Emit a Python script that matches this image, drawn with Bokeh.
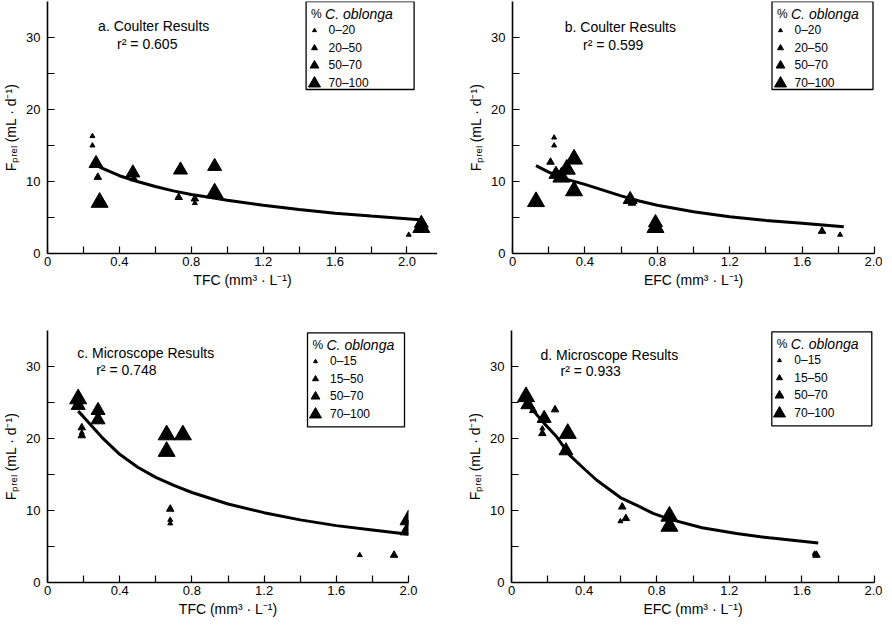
from bokeh.plotting import figure
from bokeh.layouts import column, row
from bokeh.models import Range1d, FixedTicker, Label, BoxAnnotation, Legend, LegendItem
from bokeh.embed import file_html
from bokeh.resources import INLINE

FONT = "Liberation Sans"

# ---------------- data ----------------
x_major_ticks = [0, 0.4, 0.8, 1.2, 1.6, 2.0]
x_tick_labels = ["0", "0.4", "0.8", "1.2", "1.6", "2.0"]
x_minor_ticks = [0.2, 0.6, 1.0, 1.4, 1.8]
y_major_ticks = [0, 10, 20, 30]
y_minor_ticks = [5, 15, 25]

# panel a : Coulter, TFC
a_x_c1 = [0.25, 0.25, 0.82, 2.01]
a_y_c1 = [16.3, 15.0, 7.0, 2.6]
a_x_c2 = [0.28, 0.48, 0.73, 0.82]
a_y_c2 = [10.6, 10.4, 7.8, 7.6]
a_x_c3 = [0.27, 0.475, 0.74, 0.93, 2.08]
a_y_c3 = [12.5, 11.2, 11.6, 12.1, 4.2]
a_x_c4 = [0.29, 0.93, 2.08]
a_y_c4 = [7.1, 8.4, 3.6]
a_fit_x = [0.25, 0.3, 0.4, 0.5, 0.6, 0.7, 0.8, 0.9, 1.0, 1.2, 1.4, 1.6, 1.8, 2.07]
a_fit_y = [12.6, 11.9, 10.8, 10.0, 9.3, 8.7, 8.2, 7.8, 7.4, 6.7, 6.1, 5.6, 5.2, 4.7]

# panel b : Coulter, EFC
b_x_c1 = [0.23, 0.23, 1.81]
b_y_c1 = [16.1, 15.0, 2.6]
b_x_c2 = [0.21, 0.66, 1.71]
b_y_c2 = [12.7, 7.0, 3.1]
b_x_c3 = [0.24, 0.65, 0.79]
b_y_c3 = [11.0, 7.5, 4.3]
b_x_c4 = [0.13, 0.27, 0.30, 0.34, 0.34, 0.79]
b_y_c4 = [7.2, 10.6, 11.7, 13.1, 8.7, 3.6]
b_fit_x = [0.13, 0.2, 0.3, 0.4, 0.5, 0.6, 0.7, 0.8, 1.0, 1.2, 1.4, 1.6, 1.83]
b_fit_y = [12.2, 11.3, 10.3, 9.6, 8.8, 8.0, 7.3, 6.7, 5.8, 5.1, 4.6, 4.2, 3.7]

# panel c : Microscope, TFC
c_x_c1 = [0.19, 0.68, 0.68, 1.73]
c_y_c1 = [20.8, 8.7, 8.2, 3.8]
c_x_c2 = [0.19, 0.19, 0.68, 1.92]
c_y_c2 = [21.5, 20.4, 10.2, 3.8]
c_x_c3 = [0.28, 0.28, 0.17]
c_y_c3 = [23.9, 22.6, 24.6]
c_x_c4 = [0.17, 0.66, 0.66, 0.75, 2.0, 2.0]
c_y_c4 = [25.5, 20.5, 18.2, 20.5, 8.7, 7.3]
c_fit_x = [0.17, 0.2, 0.3, 0.4, 0.5, 0.6, 0.7, 0.8, 1.0, 1.2, 1.4, 1.6, 1.8, 2.0]
c_fit_y = [23.8, 23.0, 20.2, 17.8, 16.0, 14.6, 13.5, 12.5, 10.9, 9.7, 8.7, 7.9, 7.3, 6.7]

# panel d : Microscope, EFC
d_x_c1 = [0.17, 0.60, 1.67]
d_y_c1 = [21.4, 8.5, 4.0]
d_x_c2 = [0.12, 0.24, 0.17, 0.61, 0.63, 1.68]
d_y_c2 = [23.9, 24.0, 20.7, 10.5, 8.9, 3.8]
d_x_c3 = [0.18, 0.30, 0.09]
d_y_c3 = [22.8, 18.3, 24.7]
d_x_c4 = [0.08, 0.31, 0.87, 0.87]
d_y_c4 = [25.8, 20.7, 9.2, 7.8]
d_fit_x = [0.088, 0.18, 0.25, 0.32, 0.4, 0.47, 0.6, 0.7, 0.78, 0.87, 1.05, 1.24, 1.42, 1.69]
d_fit_y = [24.8, 22.1, 20.2, 17.7, 15.8, 14.2, 11.8, 10.6, 9.6, 8.8, 7.6, 6.8, 6.2, 5.5]

coulter_classes = ["0–20", "20–50", "50–70", "70–100"]
micro_classes = ["0–15", "15–50", "50–70", "70–100"]

# ---------------- styling ----------------
MARKER_SIZES = [5, 7.5, 14, 17]
KEY_SIZES = [4, 6, 9, 12]
Y_LABEL = "Fₚᵣₑₗ (mL · d⁻¹)"


def make_panel(width, height, x_end, bl, br, bt, bb, xlabel):
    p = figure(width=width, height=height,
               x_range=Range1d(0, x_end), y_range=Range1d(0, 35),
               output_backend="svg", toolbar_location=None,
               min_border_left=bl, min_border_right=br,
               min_border_top=bt, min_border_bottom=bb)
    p.outline_line_color = None
    p.grid.visible = False
    p.background_fill_color = "white"
    p.border_fill_color = "white"

    xa = p.xaxis[0]
    xa.ticker = FixedTicker(ticks=x_major_ticks, minor_ticks=x_minor_ticks)
    xa.major_label_overrides = {t: l for t, l in zip(x_major_ticks, x_tick_labels)}
    xa.axis_label = xlabel
    ya = p.yaxis[0]
    ya.ticker = FixedTicker(ticks=y_major_ticks, minor_ticks=y_minor_ticks)
    ya.axis_label = Y_LABEL

    for ax in (xa, ya):
        ax.axis_line_color = "black"
        ax.axis_line_width = 1.6
        ax.major_tick_line_color = "black"
        ax.minor_tick_line_color = "black"
        ax.major_tick_line_width = 1.2
        ax.minor_tick_line_width = 1.2
        ax.major_tick_in = 7
        ax.major_tick_out = 0
        ax.minor_tick_in = 7
        ax.minor_tick_out = 0
        ax.major_label_text_font = FONT
        ax.major_label_text_font_size = "13px"
        ax.major_label_text_color = "black"
        ax.axis_label_text_font = FONT
        ax.axis_label_text_font_size = "14px"
        ax.axis_label_text_font_style = "normal"
        ax.axis_label_text_color = "black"
    xa.major_label_standoff = 3
    xa.axis_label_standoff = 3
    ya.major_label_standoff = 7
    ya.axis_label_standoff = 4
    return p


def add_series(p, xs, ys, fx, fy):
    rs = []
    for x, y, s in zip(xs, ys, MARKER_SIZES):
        rs.append(p.scatter(x, y, marker="triangle", size=s,
                            fill_color="black", line_color="black"))
    p.line(fx, fy, line_color="black", line_width=3)
    return rs


def add_text(p, title, r2, tx, ty, rx, ry):
    p.add_layout(Label(x=tx, y=ty, x_units="screen", y_units="screen", text=title,
                       text_font=FONT, text_font_size="14px", text_color="black",
                       text_baseline="middle", text_align="left"))
    p.add_layout(Label(x=rx, y=ry, x_units="screen", y_units="screen", text=r2,
                       text_font=FONT, text_font_size="14px", text_color="black",
                       text_baseline="middle", text_align="left"))


def add_key(p, renderers, labels, left, top, width, height):
    p.add_layout(BoxAnnotation(left=left, right=left + width, top=top, bottom=top - height,
                               left_units="screen", right_units="screen",
                               top_units="screen", bottom_units="screen",
                               fill_color="white", fill_alpha=1.0,
                               line_color="black", line_width=1.3, line_alpha=1.0))
    p.add_layout(Label(x=left + 5, y=top - 12, x_units="screen", y_units="screen",
                       text="%", text_font=FONT, text_font_size="12px",
                       text_baseline="middle", text_color="black"))
    p.add_layout(Label(x=left + 19, y=top - 12, x_units="screen", y_units="screen",
                       text="C. oblonga", text_font=FONT, text_font_size="14px",
                       text_font_style="italic", text_baseline="middle", text_color="black"))
    offsets = [29, 46.5, 64, 81.5]
    GW = 30                       # same glyph box width for every key row
    glyph_dx, label_dx = 8, 18
    for r, lab, s, off in zip(renderers, labels, KEY_SIZES, offsets):
        gh = int(round(2.5 * s))  # marker size in key = 0.4 * min(GW, gh)
        row_h = max(14, gh)
        cy = top - off
        leg = Legend(items=[LegendItem(label=lab, renderers=[r])],
                     location=(left + glyph_dx - GW / 2, cy - row_h / 2),
                     glyph_width=GW, glyph_height=gh, label_height=0,
                     label_standoff=label_dx - glyph_dx - GW // 2,
                     padding=0, margin=0, spacing=0,
                     border_line_alpha=0, background_fill_alpha=0,
                     label_text_font=FONT, label_text_font_size="12px",
                     label_text_color="black")
        p.add_layout(leg)


# ---------------- panels ----------------
pa = make_panel(437, 323, 2.17, 43, 0, 1, 70, "TFC (mm³ · L⁻¹)")
ra = add_series(pa, [a_x_c1, a_x_c2, a_x_c3, a_x_c4], [a_y_c1, a_y_c2, a_y_c3, a_y_c4],
                a_fit_x, a_fit_y)
add_text(pa, "a. Coulter Results", "r² = 0.605", 50.6, 228, 69.6, 210)
add_key(pa, ra, coulter_classes, 258.6, 252, 108, 88)

pb = make_panel(445, 323, 2.0, 75, 8, 1, 70, "EFC (mm³ · L⁻¹)")
rb = add_series(pb, [b_x_c1, b_x_c2, b_x_c3, b_x_c4], [b_y_c1, b_y_c2, b_y_c3, b_y_c4],
                b_fit_x, b_fit_y)
add_text(pb, "b. Coulter Results", "r² = 0.599", 52.2, 227, 70.5, 209)
add_key(pb, rb, coulter_classes, 259.5, 252, 101, 88)

pc = make_panel(437, 296, 2.0, 45, 29, 7, 37, "TFC (mm³ · L⁻¹)")
rc = add_series(pc, [c_x_c1, c_x_c2, c_x_c3, c_x_c4], [c_y_c1, c_y_c2, c_y_c3, c_y_c4],
                c_fit_x, c_fit_y)
add_text(pc, "c. Microscope Results", "r² = 0.748", 29.7, 229.7, 48.7, 212.7)
add_key(pc, rc, micro_classes, 260, 249.7, 97, 94)

pd_ = make_panel(445, 296, 2.0, 74, 8, 7, 37, "EFC (mm³ · L⁻¹)")
rd = add_series(pd_, [d_x_c1, d_x_c2, d_x_c3, d_x_c4], [d_y_c1, d_y_c2, d_y_c3, d_y_c4],
                d_fit_x, d_fit_y)
add_text(pd_, "d. Microscope Results", "r² = 0.933", 29, 227.7, 49, 211.7)
add_key(pd_, rd, micro_classes, 260.3, 250.7, 100, 94)

layout = column(row(pa, pb), row(pc, pd_))
open("out.html", "w").write(file_html(layout, INLINE))
